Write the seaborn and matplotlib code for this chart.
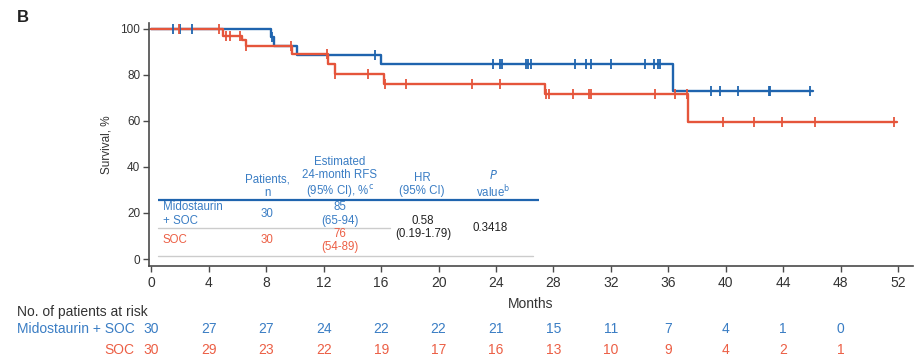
import numpy as np
import matplotlib
matplotlib.use("Agg")
import matplotlib.pyplot as plt
from matplotlib import font_manager
import seaborn as sns

# ---- Kaplan-Meier data (months, survival %) ----
mido_event_t = [0, 8.3, 8.55, 10.15, 16.0, 36.3]
mido_surv = [100, 96.3, 92.6, 88.7, 84.8, 72.9]
mido_end_t = 46.1
mido_censor_t = [1.5, 2.0, 2.85, 8.42, 15.55, 23.8, 24.3, 24.45, 26.1, 26.25, 26.45,
                 29.5, 30.3, 30.6, 32.0, 34.4, 35.0, 35.25, 35.4, 39.0, 39.6, 40.85,
                 43.0, 43.1, 45.85]

soc_event_t = [0, 5.0, 6.3, 6.55, 9.8, 12.3, 12.75, 16.2, 27.4, 37.4]
soc_surv = [100, 96.7, 95.0, 92.4, 89.0, 84.5, 80.4, 75.9, 71.6, 59.7]
soc_end_t = 51.9
soc_censor_t = [1.9, 4.7, 5.2, 5.5, 6.15, 6.6, 9.75, 12.25, 12.8, 15.05, 16.25, 17.7,
                22.3, 24.3, 27.45, 27.7, 29.35, 30.5, 30.65, 35.1, 36.5, 37.3, 39.8,
                42.0, 43.95, 46.2, 51.7]

# ---- Number at risk ----
risk_times = [0, 4, 8, 12, 16, 20, 24, 28, 32, 36, 40, 44, 48]
mido_at_risk = [30, 27, 27, 24, 22, 22, 21, 15, 11, 7, 4, 1, 0]
soc_at_risk = [30, 29, 23, 22, 19, 17, 16, 13, 10, 9, 4, 2, 1]

# ---- Summary table ----
group_labels = ["Midostaurin\n+ SOC", "SOC"]
patients_n = [30, 30]
rfs_24m = ["85\n(65-94)", "76\n(54-89)"]
hr_text = "0.58\n(0.19-1.79)"
p_text = "0.3418"

BLUE = "#1f64ae"
RED = "#e5553b"
BLUE_TXT = "#3a7dc4"
RED_TXT = "#ec5f45"
SPINE = "#4a4a4a"

sns.set_style("ticks")
available = {f.name for f in font_manager.fontManager.ttflist}
NARROW = "Liberation Sans Narrow" if "Liberation Sans Narrow" in available else "Liberation Sans"
plt.rcParams["font.family"] = ["Liberation Sans", "DejaVu Sans"]

fig = plt.figure(figsize=(9.19, 3.56), dpi=100)
ax = fig.add_axes([0.1618, 0.2528, 0.8317, 0.6826])


def step_value(event_t, surv, t):
    idx = np.searchsorted(np.asarray(event_t), np.asarray(t), side="right") - 1
    return np.asarray(surv)[idx]


for ev_t, sv, end_t, cens, col in [
    (mido_event_t, mido_surv, mido_end_t, mido_censor_t, BLUE),
    (soc_event_t, soc_surv, soc_end_t, soc_censor_t, RED),
]:
    xs = list(ev_t) + [end_t]
    ys = list(sv) + [sv[-1]]
    sns.lineplot(x=xs, y=ys, drawstyle="steps-post", color=col, linewidth=1.7,
                 estimator=None, sort=False, ax=ax)
    sns.scatterplot(x=cens, y=step_value(ev_t, sv, cens), marker="|", s=55,
                    linewidth=1.3, color=col, ax=ax, zorder=3)

ax.set_xlim(-0.195, 53.05)
ax.set_ylim(-3.04, 102.5)
ax.set_xticks(np.arange(0, 53, 4))
ax.set_yticks(np.arange(0, 101, 20))
sns.despine(ax=ax)
for side in ("left", "bottom"):
    ax.spines[side].set_color(SPINE)
    ax.spines[side].set_linewidth(1.2)
ax.tick_params(axis="both", direction="out", length=4, width=1.0, color=SPINE,
               labelcolor="#333333")
ax.tick_params(axis="y", labelsize=8.5, pad=2)
ax.tick_params(axis="x", labelsize=10, pad=3)
for lab in ax.get_xticklabels():
    lab.set_fontfamily(NARROW)
ax.set_ylabel("Survival, %", fontsize=8.5, color="#333333", labelpad=6)
ax.set_xlabel("Months", fontsize=10, color="#333333", labelpad=5, fontfamily=NARROW)

# ---- In-plot summary table ----
tk = dict(fontsize=8.3, ha="center", va="center", linespacing=1.15)
ax.plot([0.45, 27.0], [25.75, 25.75], color=BLUE, linewidth=1.6, solid_capstyle="butt")
ax.plot([0.45, 16.6], [13.6, 13.6], color="#cccccc", linewidth=1.0)
ax.plot([0.45, 26.6], [1.3, 1.3], color="#cccccc", linewidth=1.0)
ax.text(8.05, 31.7, "Patients,\nn", color=BLUE_TXT, **tk)
ax.text(13.13, 35.2, "Estimated\n24-month RFS\n(95% CI), %$^{\\mathrm{c}}$", color=BLUE_TXT, **tk)
ax.text(18.85, 32.3, "HR\n(95% CI)", color=BLUE_TXT, **tk)
ax.text(23.8, 32.3, "$\\mathit{P}$\nvalue$^{\\mathrm{b}}$", color=BLUE_TXT, **tk)

row_y = [19.6, 8.0]
label_y = [19.6, 8.25]
for lbl, n, rfs, ly, ry, col in zip(group_labels, patients_n, rfs_24m, label_y, row_y,
                                    [BLUE_TXT, RED_TXT]):
    ax.text(0.78, ly, lbl, color=col, fontsize=8.3, ha="left", va="center", linespacing=1.15)
    ax.text(8.05, ly, str(n), color=col, **tk)
    ax.text(13.13, ry, rfs, color=col, **tk)
ax.text(18.91, 13.7, hr_text, color="#222222", **tk)
ax.text(23.58, 13.6, p_text, color="#222222", **tk)

# ---- Number-at-risk table ----
rk = dict(fontsize=10, va="center", fontfamily=NARROW, clip_on=False)
ax.text(-9.37, -23.0, "No. of patients at risk", color="#333333", ha="left", **rk)
ax.text(-1.2, -30.4, "Midostaurin + SOC", color=BLUE_TXT, ha="right", **rk)
ax.text(-1.2, -39.5, "SOC", color=RED_TXT, ha="right", **rk)
for t, m, s in zip(risk_times, mido_at_risk, soc_at_risk):
    ax.text(t, -30.4, str(m), color=BLUE_TXT, ha="center", **rk)
    ax.text(t, -39.5, str(s), color=RED_TXT, ha="center", **rk)

fig.text(0.0185, 0.952, "B", fontsize=12, fontweight="bold", color="#222222",
         ha="left", va="center")

fig.savefig("out.png", dpi=100)
